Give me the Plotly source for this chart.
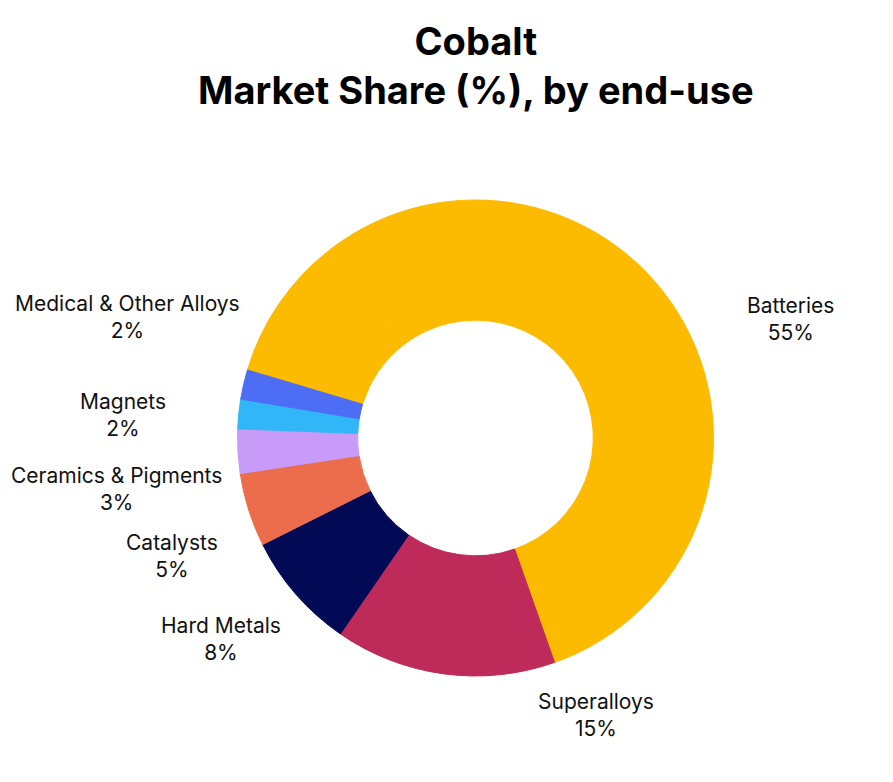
import plotly.graph_objects as go

# cobalt demand by end-use, shares in %
labels = [
    "Batteries",
    "Superalloys",
    "Hard Metals",
    "Catalysts",
    "Ceramics & Pigments",
    "Magnets",
    "Medical & Other Alloys",
]
shares = [55, 15, 8, 5, 3, 2, 2]
colors = ["#FDBB00", "#BE2A5A", "#020A55", "#EC6D4C", "#C89BF8", "#31B6F7", "#4D6DF5"]

# the ring is drawn out of 100; what is not listed sits next to batteries
rest = 100 - sum(shares)

# where each label block sits (paper coords)
label_pos = [
    (0.876, 0.602),
    (0.658, 0.096),
    (0.238, 0.193),
    (0.184, 0.299),
    (0.121, 0.385),
    (0.129, 0.479),
    (0.134, 0.605),
]

slice_colors = [colors[0]] + colors

fig = go.Figure()
fig.add_trace(
    go.Pie(
        labels=["unlisted"] + labels,
        values=[rest] + shares,
        marker={"colors": slice_colors, "line": {"width": 1, "color": slice_colors}},
        hole=0.495,
        sort=False,
        direction="clockwise",
        rotation=-73.4,
        textinfo="none",
        hoverinfo="label+value",
        showlegend=False,
        domain={"x": [0.257, 0.790], "y": [0.1458, 0.7545]},
    )
)

for name, share, (x, y) in zip(labels, shares, label_pos):
    fig.add_annotation(
        x=x,
        y=y,
        xref="paper",
        yref="paper",
        text=f"{name}<br>{share}%",
        showarrow=False,
        xanchor="center",
        yanchor="middle",
        font={"family": "Inter", "size": 21, "color": "#111111"},
    )

fig.add_annotation(
    x=0.524,
    y=0.926,
    xref="paper",
    yref="paper",
    text="<b>Cobalt<br>Market Share (%), by end-use</b>",
    showarrow=False,
    xanchor="center",
    yanchor="middle",
    font={"family": "Inter", "size": 38, "color": "black"},
)

fig.update_layout(
    width=893,
    height=782,
    margin={"l": 0, "r": 0, "t": 0, "b": 0},
    paper_bgcolor="white",
    plot_bgcolor="white",
)
fig.write_html("out.html")
